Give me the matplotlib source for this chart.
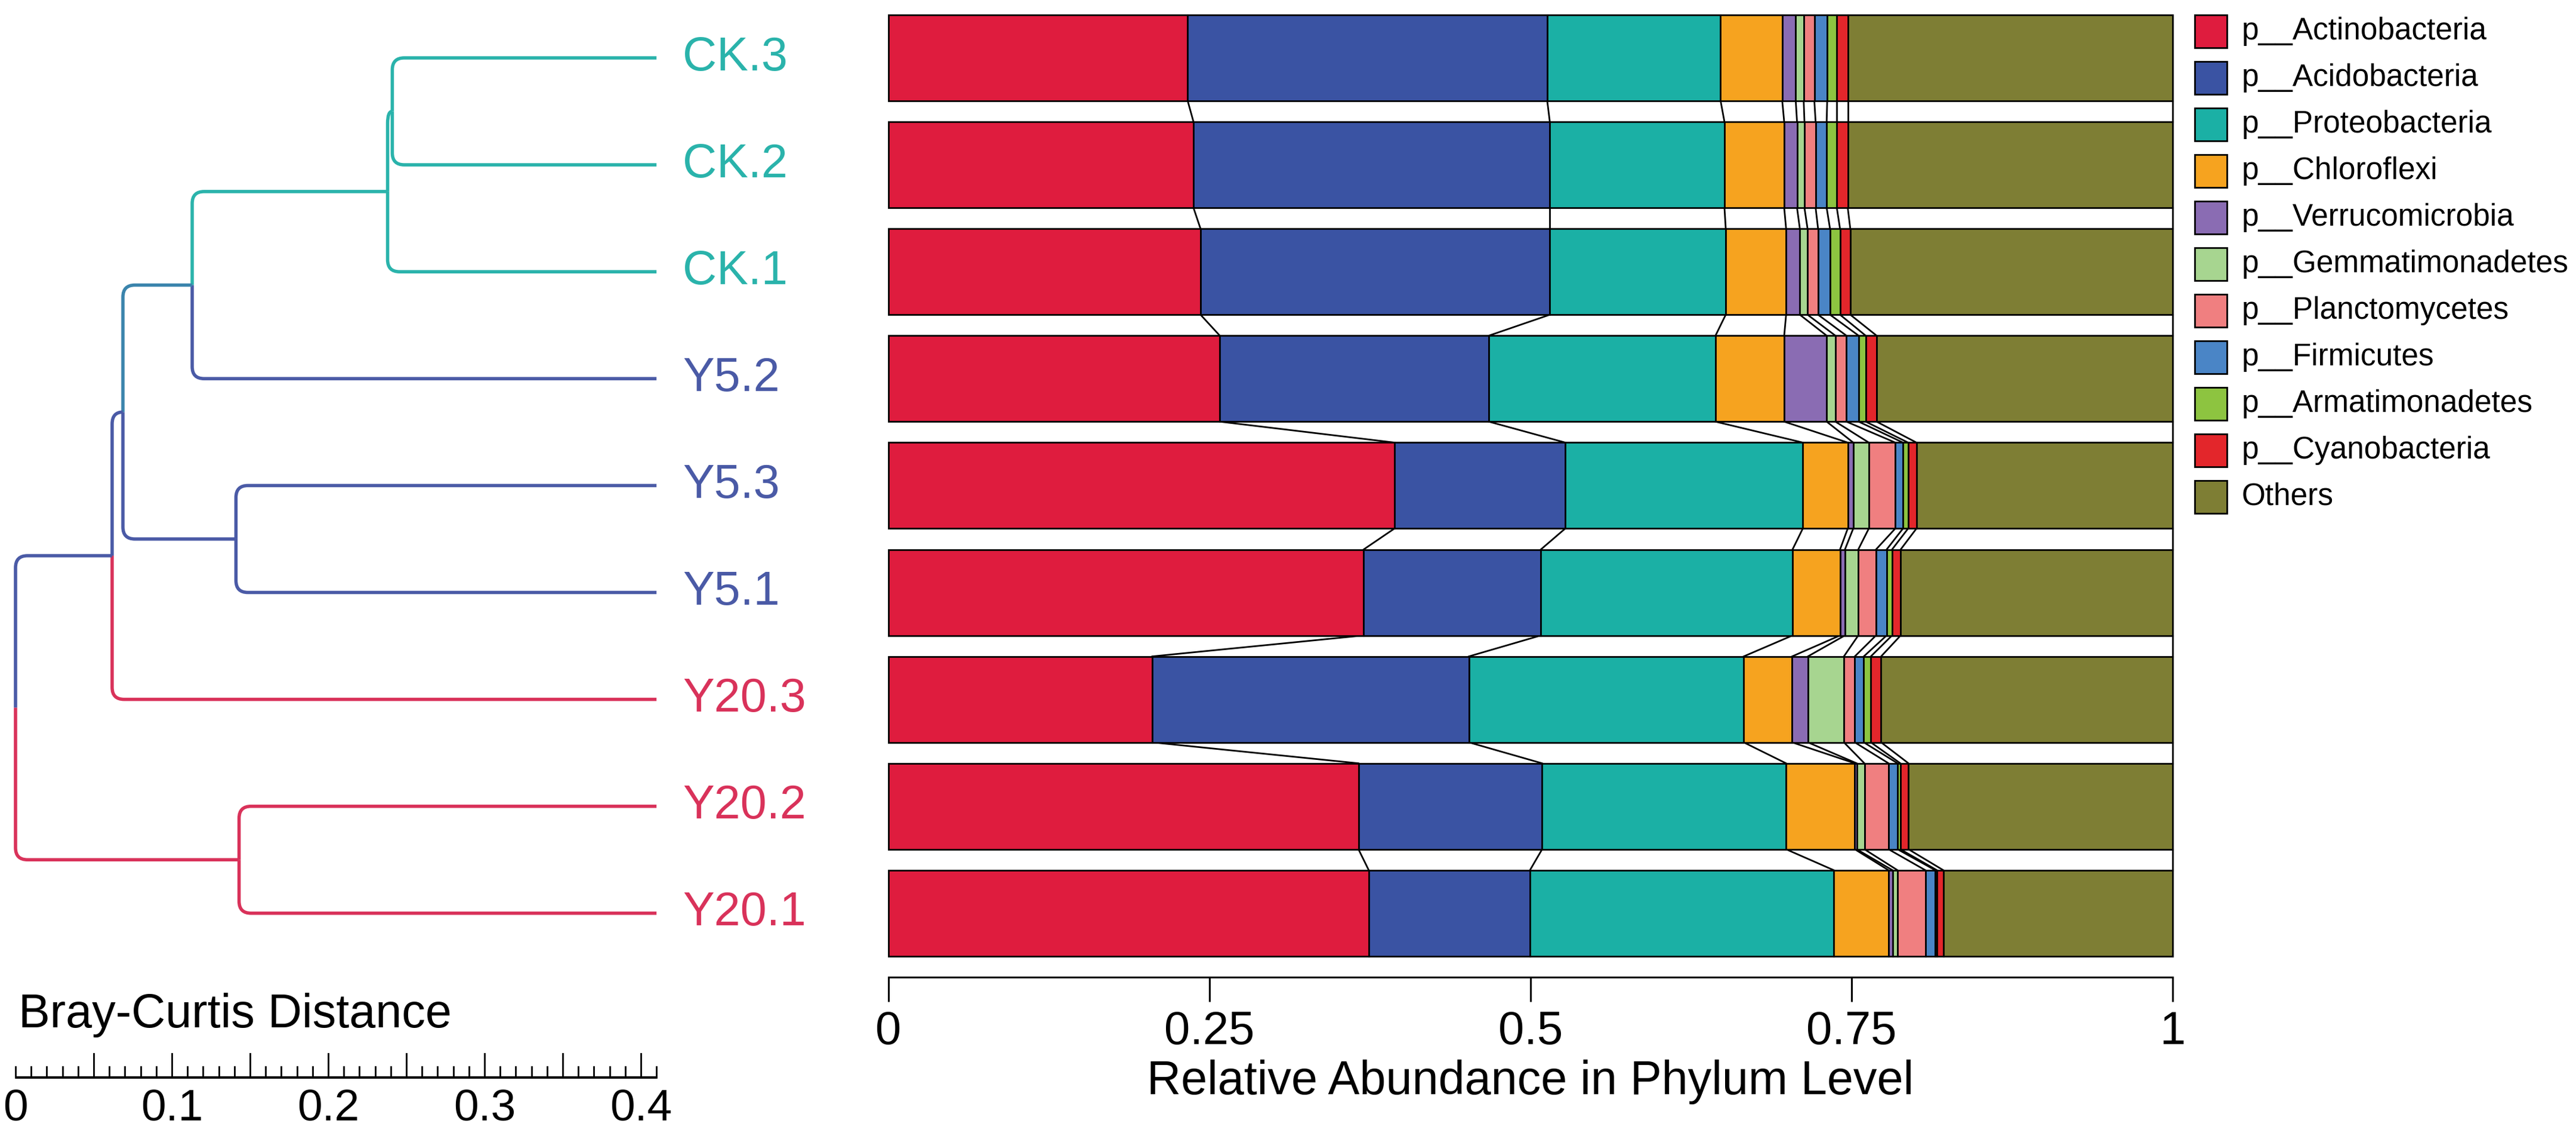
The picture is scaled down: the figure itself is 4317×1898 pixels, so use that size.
import matplotlib
matplotlib.use('Agg')
import matplotlib.pyplot as plt
from matplotlib.path import Path
from matplotlib.patches import PathPatch, Rectangle
import numpy as np

plt.rcParams['font.family'] = ['Liberation Sans', 'DejaVu Sans']

# ---------------- data ----------------
samples = ['CK.3', 'CK.2', 'CK.1', 'Y5.2', 'Y5.3', 'Y5.1', 'Y20.3', 'Y20.2', 'Y20.1']
sample_group = ['CK', 'CK', 'CK', 'Y5', 'Y5', 'Y5', 'Y20', 'Y20', 'Y20']

phyla = ['p__Actinobacteria', 'p__Acidobacteria', 'p__Proteobacteria', 'p__Chloroflexi',
         'p__Verrucomicrobia', 'p__Gemmatimonadetes', 'p__Planctomycetes', 'p__Firmicutes',
         'p__Armatimonadetes', 'p__Cyanobacteria', 'Others']
phylum_colors = ['#DF1C3E', '#3A53A3', '#1BB0A5', '#F6A31F', '#8A6CB3', '#A7D590',
                 '#F07F80', '#4A85C6', '#8DC440', '#E3262B', '#7E7E34']

actinobacteria   = [0.233, 0.2375, 0.243, 0.258, 0.394, 0.370, 0.2054, 0.366, 0.374]
acidobacteria    = [0.280, 0.2775, 0.272, 0.2095, 0.133, 0.138, 0.2466, 0.143, 0.1255]
proteobacteria   = [0.135, 0.136, 0.137, 0.1765, 0.185, 0.196, 0.214, 0.190, 0.2367]
chloroflexi      = [0.048, 0.0465, 0.047, 0.0535, 0.035, 0.037, 0.0377, 0.0535, 0.0426]
verrucomicrobia  = [0.0105, 0.010, 0.0107, 0.0331, 0.0043, 0.0038, 0.0123, 0.0015, 0.0031]
gemmatimonadetes = [0.0062, 0.0058, 0.006, 0.0068, 0.0121, 0.0104, 0.028, 0.006, 0.0039]
planctomycetes   = [0.0083, 0.0087, 0.0082, 0.0086, 0.0206, 0.0138, 0.0085, 0.0188, 0.0217]
firmicutes       = [0.010, 0.0086, 0.0093, 0.0095, 0.006, 0.0083, 0.007, 0.007, 0.0077]
armatimonadetes  = [0.0075, 0.0079, 0.0078, 0.0055, 0.004, 0.0042, 0.0055, 0.0022, 0.0013]
cyanobacteria    = [0.0085, 0.0085, 0.008, 0.0085, 0.0065, 0.0067, 0.008, 0.0063, 0.005]
others           = [0.253, 0.253, 0.251, 0.2305, 0.1995, 0.2118, 0.227, 0.2057, 0.1785]

# Dendrogram (Bray-Curtis), leaves 0..8 in the order of `samples`; internal nodes 9..16
leaf_pos = 0.41
merge_a = [0, 9, 10, 4, 11, 13, 7, 14]
merge_b = [1, 2, 3, 5, 12, 6, 8, 15]
merge_x = [0.241, 0.238, 0.113, 0.141, 0.0687, 0.0618, 0.143, 0.0]

group_colors = {'CK': '#2AB3AB', 'Y5': '#4A5AA6', 'Y20': '#D9325A'}
mix_color = '#3A84AC'
link_group = ['CK', 'CK', 'CK', 'Y5', 'Y5', 'Y5', 'Y20', 'Y20', 'Y20',
              'CK', 'CK', 'MIX', 'Y5', 'Y5', 'Y5', 'Y20']

scale_ticks = [0, 0.1, 0.2, 0.3, 0.4]
bar_ticks = [0, 0.25, 0.5, 0.75, 1]
bar_ticklabels = ['0', '0.25', '0.5', '0.75', '1']

# ---------------- layout (pixel geometry) ----------------
W, H = 4317, 1898
DPI = 100
fig = plt.figure(figsize=(W / DPI, H / DPI), dpi=DPI)

pitch = 179.1
c0 = 97.0
def ydata(p):
    return (p - c0) / pitch

bar_left, bar_right = 1489, 3641
ax_top_px, ax_bot_px = 10, 1637

ax = fig.add_axes([bar_left / W, 1 - ax_bot_px / H, (bar_right - bar_left) / W,
                   (ax_bot_px - ax_top_px) / H])
axd = fig.add_axes([0, 0, bar_left / W, 1 - ax_top_px / H])
axl = fig.add_axes([bar_right / W, 0, (W - bar_right) / W, 1])

# ---------------- stacked bars ----------------
series = [actinobacteria, acidobacteria, proteobacteria, chloroflexi, verrucomicrobia,
          gemmatimonadetes, planctomycetes, firmicutes, armatimonadetes, cyanobacteria, others]
vals = np.array(series)  # (phyla, samples)
ypos = np.arange(len(samples))
bar_h = 144 / pitch
left = np.zeros(len(samples))
for k in range(len(phyla)):
    ax.barh(ypos, vals[k], left=left, height=bar_h, color=phylum_colors[k],
            edgecolor='black', linewidth=2.0, clip_on=False, zorder=3)
    left = left + vals[k]

cum = np.cumsum(vals, axis=0)  # boundaries
for i in range(len(samples) - 1):
    for k in range(len(phyla)):
        ax.plot([cum[k, i], cum[k, i + 1]], [i + bar_h / 2, i + 1 - bar_h / 2],
                color='black', lw=2.0, clip_on=False, zorder=2)

ax.set_xlim(0, 1)
ax.set_ylim(ydata(ax_bot_px), ydata(ax_top_px))
for s in ['top', 'right', 'left']:
    ax.spines[s].set_visible(False)
ax.spines['bottom'].set_linewidth(2.2)
ax.set_yticks([])
ax.set_xticks(bar_ticks)
ax.set_xticklabels(bar_ticklabels)
ax.tick_params(axis='x', length=29.5, width=2.2, pad=10, labelsize=56)
ax.set_xlabel('Relative Abundance in Phylum Level', fontsize=57)
ax.xaxis.label.set_va('center')
ax.xaxis.set_label_coords(0.5, -(1813 - ax_bot_px) / (ax_bot_px - ax_top_px))

# ---------------- dendrogram ----------------
px_per_unit = 2620.0
x0px = 26.0
axd.set_xlim(-x0px / px_per_unit, (bar_left - x0px) / px_per_unit)
axd.set_ylim(ydata(H), ydata(ax_top_px))
axd.axis('off')

n_leaf = len(samples)
node_x = [leaf_pos] * n_leaf
node_y = list(range(n_leaf))
for a, b, x in zip(merge_a, merge_b, merge_x):
    node_x.append(x)
    node_y.append((node_y[a] + node_y[b]) / 2.0)

rx = 20 / px_per_unit
ry = 20 / pitch
def link_color(c):
    g = link_group[c]
    return mix_color if g == 'MIX' else group_colors[g]

for j, (a, b, x) in enumerate(zip(merge_a, merge_b, merge_x)):
    p = n_leaf + j
    xp, yp = node_x[p], node_y[p]
    for c in (a, b):
        xc, yc = node_x[c], node_y[c]
        s = np.sign(yc - yp)
        r_y = min(ry, abs(yc - yp))
        r_x = min(rx, xc - xp)
        verts = [(xp, yp), (xp, yc - s * r_y), (xp, yc), (xp + r_x, yc), (xc, yc)]
        codes = [Path.MOVETO, Path.LINETO, Path.CURVE3, Path.CURVE3, Path.LINETO]
        axd.add_patch(PathPatch(Path(verts, codes), fill=False, lw=4.0,
                                edgecolor=link_color(c), capstyle='butt',
                                joinstyle='round', clip_on=False))

for i, name in enumerate(samples):
    axd.text((1144 - x0px) / px_per_unit, i, name, fontsize=57, va='center', ha='left',
             color=group_colors[sample_group[i]])

# scale bar
y_line = ydata(1805)
axd.plot([0, leaf_pos], [y_line, y_line], color='black', lw=3.0, solid_capstyle='butt',
         clip_on=False)
for t in range(0, 42):
    tv = t / 100.0
    top = ydata(1765) if (t % 5 == 0 and t > 0) else ydata(1787)
    axd.plot([tv, tv], [y_line, top], color='black', lw=2.0, clip_on=False)
for tv in scale_ticks:
    axd.text(tv, ydata(1858), f'{tv:g}', fontsize=54, ha='center', va='center')
axd.text(5 / px_per_unit, ydata(1701), 'Bray-Curtis Distance', fontsize=57,
         ha='left', va='center')

# ---------------- legend ----------------
axl.set_xlim(bar_right, W)
axl.set_ylim(H, 0)
axl.axis('off')
for k, (name, col) in enumerate(zip(phyla, phylum_colors)):
    y_top = 25 + 78 * k
    axl.add_patch(Rectangle((3678, y_top), 54, 55, facecolor=col, edgecolor='black', lw=2.0))
    axl.text(3757, y_top + 27.5, name, fontsize=37, va='center', ha='left')

fig.savefig('out.png', dpi=DPI, facecolor='white')
